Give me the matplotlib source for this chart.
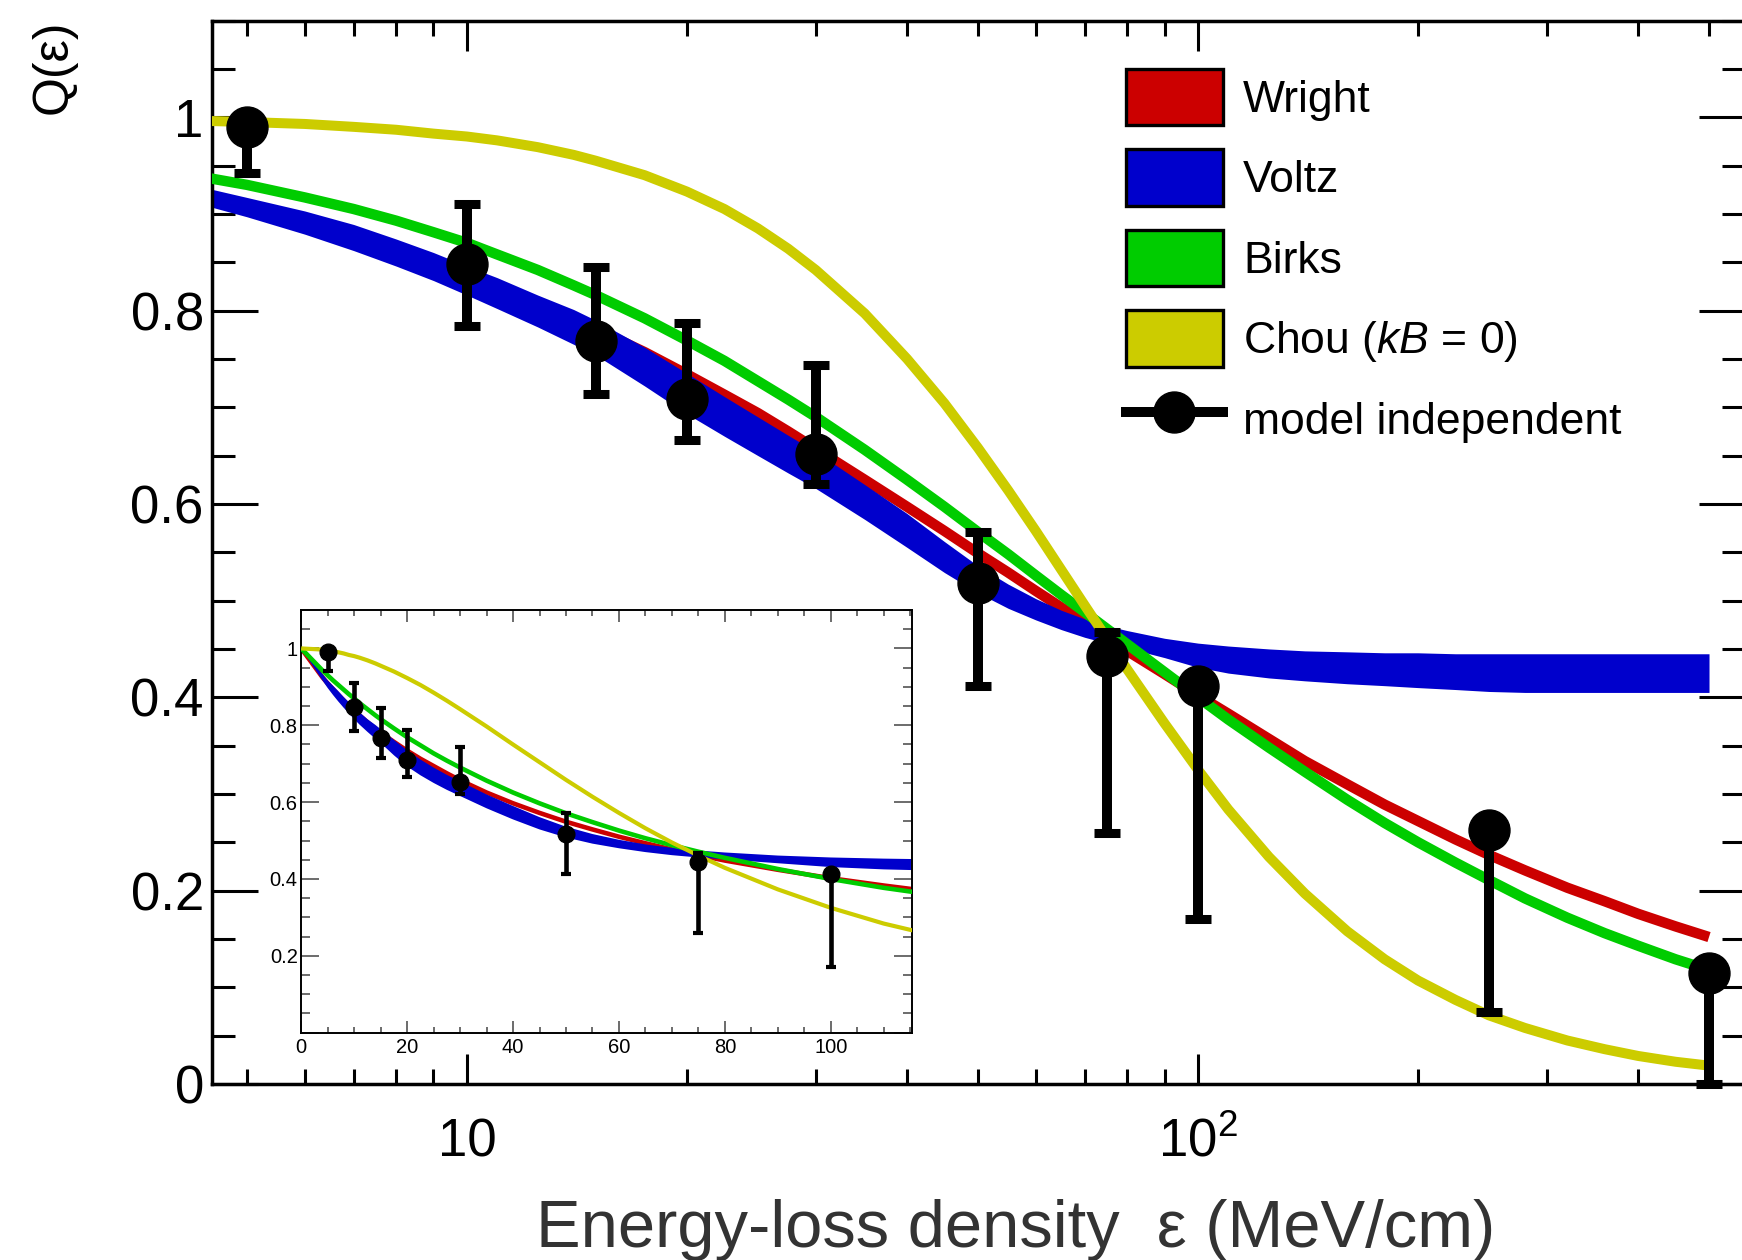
import matplotlib
matplotlib.use("Agg")
import matplotlib.pyplot as plt
from matplotlib.patches import Patch
from matplotlib.lines import Line2D
from matplotlib.ticker import FixedLocator, NullFormatter

plt.rcParams['font.family'] = ['Liberation Sans', 'DejaVu Sans']
plt.rcParams['mathtext.fontset'] = 'custom'
plt.rcParams['mathtext.rm'] = 'Liberation Sans'
plt.rcParams['mathtext.it'] = 'Liberation Sans:italic'
plt.rcParams['mathtext.bf'] = 'Liberation Sans:bold'

# Energy-loss density grid (MeV/cm) on which the quenching models are tabulated
eps = [0, 4, 5, 6, 7, 8, 9, 10, 11, 12.5, 14, 15, 17.5, 20, 22.5, 25, 27.5, 30,
       35, 40, 45, 50, 55, 60, 65, 70, 75, 80, 90, 100, 110, 125, 140, 160, 180,
       200, 225, 250, 280, 320, 360, 400, 450, 500]
q_wright = [1.000, 0.925, 0.909, 0.894, 0.879, 0.865, 0.851, 0.838, 0.826, 0.808,
            0.791, 0.781, 0.757, 0.734, 0.713, 0.694, 0.675, 0.657, 0.625, 0.597,
            0.572, 0.549, 0.529, 0.510, 0.493, 0.477, 0.462, 0.448, 0.424, 0.402,
            0.383, 0.357, 0.334, 0.310, 0.289, 0.272, 0.253, 0.237, 0.221, 0.203,
            0.189, 0.176, 0.163, 0.152]
q_voltz_hi = [1.000, 0.934, 0.917, 0.903, 0.889, 0.874, 0.860, 0.846, 0.834, 0.816,
              0.801, 0.790, 0.762, 0.735, 0.711, 0.690, 0.671, 0.654, 0.620, 0.590,
              0.561, 0.536, 0.517, 0.502, 0.490, 0.481, 0.474, 0.469, 0.461, 0.456,
              0.453, 0.450, 0.448, 0.447, 0.446, 0.446, 0.445, 0.445, 0.445, 0.445,
              0.445, 0.445, 0.445, 0.445]
q_voltz_lo = [1.000, 0.917, 0.897, 0.879, 0.862, 0.846, 0.831, 0.816, 0.802, 0.783,
              0.765, 0.754, 0.722, 0.693, 0.670, 0.650, 0.632, 0.616, 0.584, 0.555,
              0.529, 0.508, 0.492, 0.480, 0.470, 0.462, 0.456, 0.451, 0.441, 0.431,
              0.425, 0.420, 0.417, 0.414, 0.412, 0.410, 0.408, 0.406, 0.405, 0.405,
              0.405, 0.405, 0.405, 0.405]
q_birks = [1.000, 0.943, 0.930, 0.917, 0.905, 0.893, 0.881, 0.870, 0.858, 0.842,
           0.826, 0.816, 0.792, 0.769, 0.748, 0.727, 0.708, 0.690, 0.656, 0.625,
           0.597, 0.571, 0.548, 0.526, 0.506, 0.488, 0.471, 0.455, 0.426, 0.400,
           0.377, 0.348, 0.323, 0.294, 0.270, 0.250, 0.229, 0.211, 0.192, 0.172,
           0.156, 0.143, 0.129, 0.118]
q_chou = [1.000, 0.997, 0.995, 0.993, 0.990, 0.987, 0.983, 0.980, 0.976, 0.969,
          0.961, 0.955, 0.940, 0.923, 0.905, 0.885, 0.864, 0.842, 0.797, 0.750,
          0.704, 0.658, 0.614, 0.572, 0.532, 0.495, 0.461, 0.429, 0.373, 0.325,
          0.284, 0.235, 0.197, 0.158, 0.129, 0.107, 0.087, 0.071, 0.058, 0.045,
          0.036, 0.029, 0.023, 0.019]

# Model independent extraction
eps_pts = [5, 10, 15, 20, 30, 50, 75, 100, 250, 500]
q_pts = [0.990, 0.848, 0.768, 0.709, 0.652, 0.518, 0.443, 0.412, 0.263, 0.115]
err_lo = [0.048, 0.064, 0.054, 0.043, 0.031, 0.106, 0.183, 0.241, 0.189, 0.115]
err_hi = [0.0, 0.062, 0.077, 0.078, 0.092, 0.053, 0.025, 0.0, 0.0, 0.0]

labels = ['Wright', 'Voltz', 'Birks', 'Chou ($kB$ = 0)', 'model independent']
c_red, c_blue, c_green, c_yellow = '#cc0000', '#0000cc', '#00cc00', '#cccc00'

W, H = 1742, 1260
fig = plt.figure(figsize=(W / 100, H / 100), dpi=100)


def fx(px):
    return px / W


def fy(py):
    return 1 - py / H


def draw_models(ax, positive_only, lw_line, lw_yellow):
    idx = [i for i, e in enumerate(eps) if (e > 0 or not positive_only)]
    sel = lambda arr: [arr[i] for i in idx]
    x = sel(eps)
    ax.plot(x, sel(q_wright), color=c_red, lw=lw_line, solid_capstyle='butt',
            solid_joinstyle='round', zorder=2)
    ax.fill_between(x, sel(q_voltz_lo), sel(q_voltz_hi), color=c_blue, lw=0, zorder=2.5)
    ax.plot(x, sel(q_birks), color=c_green, lw=lw_line, solid_capstyle='butt',
            solid_joinstyle='round', zorder=3)
    ax.plot(x, sel(q_chou), color=c_yellow, lw=lw_yellow, solid_capstyle='butt',
            solid_joinstyle='round', zorder=3.5)


# ---------------- main panel (log x) ----------------
ax = fig.add_axes([fx(211.5), fy(1084), fx(1745) - fx(211.5), fy(20.5) - fy(1084)])
ax.set_xscale('log')
draw_models(ax, True, 7.5, 7.2)
eb = ax.errorbar(eps_pts, q_pts, yerr=[err_lo, err_hi], fmt='o', color='black',
                 ms=29.5, elinewidth=7.2, capsize=9.4, capthick=6.5, zorder=5)
eb[0].set_clip_on(False)
for a in list(eb[1]) + list(eb[2]):
    a.set_clip_on(False)

ax.set_xlim(4.473, 560)
ax.set_ylim(0, 1.1)
ax.set_xticks([10, 100], labels=['10', '$10^{2}$'])
ax.xaxis.set_minor_locator(FixedLocator([5, 6, 7, 8, 9, 20, 30, 40, 50, 60, 70, 80, 90,
                                         200, 300, 400, 500]))
ax.xaxis.set_minor_formatter(NullFormatter())
ax.set_yticks([0, 0.2, 0.4, 0.6, 0.8, 1.0], labels=['0', '0.2', '0.4', '0.6', '0.8', '1'])
ax.yaxis.set_minor_locator(FixedLocator([0.05 * i for i in range(23)]))
ax.tick_params(axis='x', which='major', length=21.6, width=2.2, direction='in',
               top=True, bottom=True, labelsize=38, pad=24)
ax.tick_params(axis='x', which='minor', length=11, width=2.2, direction='in',
               top=True, bottom=True)
ax.tick_params(axis='y', which='major', length=33, width=2.2, direction='in',
               left=True, right=True, labelsize=38, pad=5.5)
ax.tick_params(axis='y', which='minor', length=16.5, width=2.2, direction='in',
               left=True, right=True)
for s in ax.spines.values():
    s.set_linewidth(2.5)

handles = [Patch(facecolor=c_red, edgecolor='black', linewidth=2.4),
           Patch(facecolor=c_blue, edgecolor='black', linewidth=2.4),
           Patch(facecolor=c_green, edgecolor='black', linewidth=2.4),
           Patch(facecolor=c_yellow, edgecolor='black', linewidth=2.4),
           Line2D([], [], color='black', lw=7.2, marker='o', markersize=29.5)]
ax.legend(handles, labels, loc='upper left', bbox_to_anchor=(fx(1126), fy(69)),
          bbox_transform=fig.transFigure, frameon=False, fontsize=32,
          handlelength=2.18, handleheight=1.57, handletextpad=0.45,
          labelspacing=0.545, borderpad=0, borderaxespad=0)

fig.text(fx(54), fy(67), 'Q(ε)', rotation=90, ha='center', va='center', fontsize=36)
fig.text(fx(1016), fy(1246.7), 'Energy-loss density  ε (MeV/cm)', ha='center',
         va='baseline', fontsize=48.2, color='#333333')

# ---------------- inset (linear x) ----------------
axi = fig.add_axes([fx(301.2), fy(1032.7), fx(911.8) - fx(301.2), fy(610) - fy(1032.7)])
axi.set_facecolor('white')
draw_models(axi, False, 3.3, 3.0)
ebi = axi.errorbar(eps_pts, q_pts, yerr=[err_lo, err_hi], fmt='o', color='black',
                   ms=12, elinewidth=3.3, capsize=3.8, capthick=3.0, zorder=5)
axi.set_xlim(0, 115.3)
axi.set_ylim(0, 1.1)
axi.set_xticks([0, 20, 40, 60, 80, 100], labels=['0', '20', '40', '60', '80', '100'])
axi.xaxis.set_minor_locator(FixedLocator(list(range(0, 116, 5))))
axi.set_yticks([0, 0.2, 0.4, 0.6, 0.8, 1.0], labels=['', '0.2', '0.4', '0.6', '0.8', '1'])
axi.yaxis.set_minor_locator(FixedLocator([0.05 * i for i in range(23)]))
axi.tick_params(axis='x', which='major', length=8.6, width=1.1, direction='in',
                top=True, bottom=True, labelsize=14.5, pad=4, color='#444444')
axi.tick_params(axis='x', which='minor', length=4.3, width=1.1, direction='in',
                top=True, bottom=True, color='#444444')
axi.tick_params(axis='y', which='major', length=13, width=1.1, direction='in',
                left=True, right=True, labelsize=14.5, pad=2.5, color='#444444')
axi.tick_params(axis='y', which='minor', length=6.5, width=1.1, direction='in',
                left=True, right=True, color='#444444')
for s in axi.spines.values():
    s.set_linewidth(1.4)

fig.savefig('out.png', dpi=100)
